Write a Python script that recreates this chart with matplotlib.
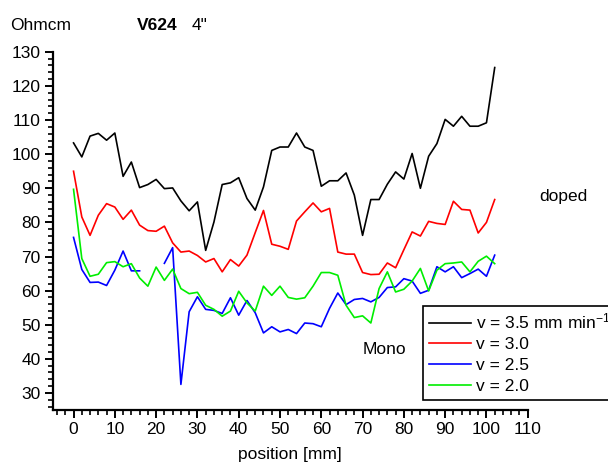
import numpy as np
import matplotlib
matplotlib.use("Agg")
import matplotlib.pyplot as plt
from matplotlib.ticker import MultipleLocator

plt.rcParams['font.family'] = ['Liberation Sans', 'DejaVu Sans']
plt.rcParams['mathtext.fontset'] = 'custom'
plt.rcParams['mathtext.rm'] = 'Liberation Sans'
plt.rcParams['mathtext.default'] = 'regular'

# position in mm, one reading every 2 mm
pos = np.arange(0, 104, 2)

v35 = [103.3, 99.2, 105.3, 106.1, 104.1, 106.2, 93.5, 97.7, 90.2, 91.1,
       92.6, 89.9, 90.1, 86.3, 83.4, 86.0, 71.8, 80.1, 91.1, 91.6,
       93.1, 87.0, 83.6, 90.4, 101.1, 102.1, 102.1, 106.2, 102.1, 101.1,
       90.6, 92.2, 92.2, 94.5, 88.0, 76.2, 86.7, 86.7, 91.2, 94.8,
       92.7, 100.2, 90.0, 99.4, 103.1, 110.2, 108.2, 111.1, 108.2, 108.2,
       109.2, 125.4]
v30 = [95.0, 81.6, 76.2, 82.1, 85.5, 84.5, 80.9, 83.6, 79.2, 77.6,
       77.4, 78.9, 74.0, 71.3, 71.6, 70.3, 68.4, 69.4, 65.5, 69.1,
       67.2, 70.4, 77.0, 83.5, 73.6, 73.0, 72.1, 80.4, 83.1, 85.7,
       83.1, 84.1, 71.3, 70.7, 70.7, 65.3, 64.7, 64.8, 68.1, 66.7,
       72.0, 77.2, 76.0, 80.3, 79.7, 79.4, 86.2, 83.8, 83.6, 76.9,
       80.0, 86.7]
v25 = [75.6, 66.2, 62.4, 62.5, 61.5, 66.0, 71.6, 65.8, 65.8, np.nan,
       np.nan, 68.0, 72.6, 32.5, 53.8, 58.2, 54.5, 54.2, 53.3, 57.9,
       52.8, 57.1, 53.5, 47.6, 49.4, 47.9, 48.6, 47.4, 50.5, 50.3,
       49.4, 54.8, 59.3, 55.9, 57.4, 57.7, 56.7, 58.0, 60.9, 61.1,
       63.5, 62.8, 59.2, 60.1, 67.0, 65.5, 67.0, 63.8, 65.0, 66.3,
       64.2, 70.4]
v20 = [89.7, 69.4, 64.2, 64.8, 68.2, 68.5, 67.0, 67.9, 63.7, 61.3,
       66.9, 63.0, 66.3, 60.6, 59.1, 59.5, 55.7, 54.5, 52.5, 54.0,
       59.8, 56.4, 54.0, 61.3, 58.6, 61.3, 58.0, 57.5, 57.9, 61.3,
       65.3, 65.3, 64.5, 55.7, 52.1, 52.6, 50.5, 60.6, 65.5, 59.6,
       60.4, 62.8, 66.5, 59.9, 66.0, 67.9, 68.1, 68.4, 65.5, 68.6,
       70.1, 67.9]

series = [v35, v30, v25, v20]
labels = ['v = 3.5 mm min$^{-1}$', 'v = 3.0', 'v = 2.5', 'v = 2.0']
colors = ['black', '#ff0000', '#0000ff', '#00ee00']

fig = plt.figure(figsize=(6.08, 4.63), dpi=100)
ax = fig.add_axes([0.087, 0.1145, 0.781, 0.7735])

for vals, lab, col in zip(series, labels, colors):
    ax.plot(pos, vals, color=col, lw=1.2, label=lab)

ax.set_xlim(-5, 110)
ax.set_ylim(25, 130)
ax.xaxis.set_minor_locator(MultipleLocator(2))
ax.yaxis.set_minor_locator(MultipleLocator(2))
ax.set_xticks(np.arange(0, 111, 10))
ax.set_yticks(np.arange(30, 131, 10))

ax.spines['top'].set_visible(False)
ax.spines['right'].set_visible(False)
ax.spines['left'].set_linewidth(1.6)
ax.spines['bottom'].set_linewidth(1.6)
ax.tick_params(which='major', direction='out', length=6, width=1.4,
               labelsize=12.5, pad=3, colors='black')
ax.tick_params(which='minor', direction='out', length=3.5, width=1.2)

fig.text(10 / 608, 1 - 25 / 463, 'Ohmcm', fontsize=12.5, va='center', ha='left')
fig.text(137 / 608, 1 - 25 / 463, 'V624', fontsize=12.5, fontweight='bold',
         va='center', ha='left')
fig.text(192 / 608, 1 - 25 / 463, '4"', fontsize=12.5, va='center', ha='left')
fig.text(539 / 608, 1 - 197 / 463, 'doped', fontsize=12.5, va='center', ha='left')
fig.text(363 / 608, 1 - 349 / 463, 'Mono', fontsize=12.5, va='center', ha='left')
fig.text(290 / 608, 1 - 447 / 463, 'position [mm]', fontsize=12.5,
         va='top', ha='center')

# the legend box runs past the right edge, as in the original
leg = ax.legend(loc='upper left', bbox_to_anchor=(423 / 608, 1 - 305.7 / 463),
                bbox_transform=fig.transFigure, fontsize=12.5, frameon=True,
                fancybox=False, borderpad=0.35, labelspacing=0.32,
                handlelength=2.4, handletextpad=0.3, borderaxespad=0)
leg.get_frame().set_edgecolor('black')
leg.get_frame().set_linewidth(1.2)
leg.get_frame().set_alpha(1)

fig.savefig('out.png', dpi=100)
